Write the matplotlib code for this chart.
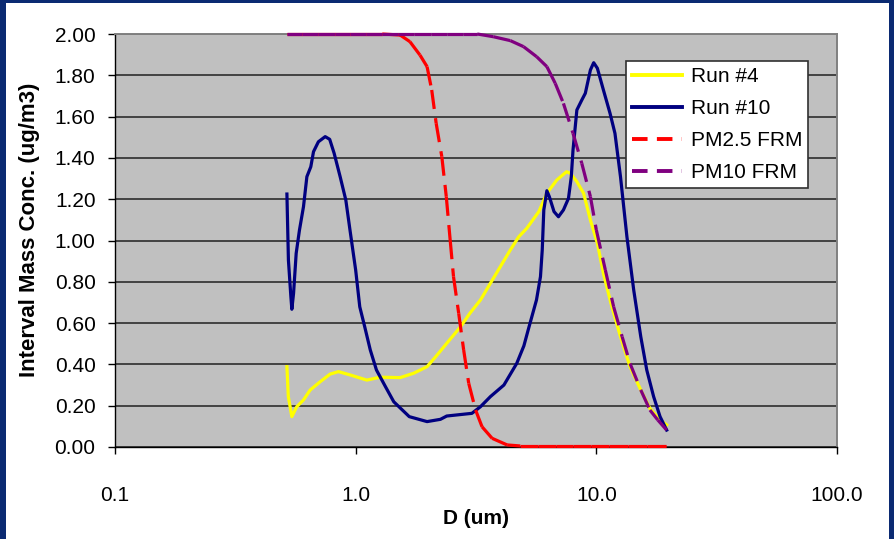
import matplotlib
matplotlib.use('Agg')
import matplotlib.pyplot as plt
from matplotlib.lines import Line2D
from matplotlib.patches import Rectangle
from matplotlib.ticker import FixedLocator, FixedFormatter, NullLocator

plt.rcParams['font.family'] = ['Liberation Sans', 'DejaVu Sans']

# ---------------- data ----------------
run10_d = [0.518, 0.5255, 0.538, 0.543, 0.552, 0.566, 0.584, 0.607, 0.627, 0.651,
           0.668, 0.700, 0.747, 0.780, 0.814, 0.862, 0.910, 0.947, 1.00, 1.04,
           1.09, 1.15, 1.22, 1.33, 1.44, 1.67, 1.98, 2.25, 2.39, 2.62,
           3.04, 3.30, 3.63, 4.13, 4.67, 5.00, 5.21, 5.64, 5.86, 5.96,
           6.05, 6.23, 6.38, 6.67, 6.96, 7.30, 7.66, 7.87, 8.00, 8.30,
           8.70, 9.00, 9.45, 9.75, 10.1, 10.7, 11.4, 11.95, 12.6, 13.4,
           14.3, 15.3, 16.2, 17.3, 18.4, 19.6]
run10_v = [1.225, 0.905, 0.728, 0.667, 0.744, 0.938, 1.05, 1.164, 1.309, 1.357,
           1.43, 1.478, 1.503, 1.49, 1.422, 1.309, 1.196, 1.051, 0.857, 0.679,
           0.583, 0.47, 0.373, 0.292, 0.219, 0.147, 0.123, 0.134, 0.150, 0.155,
           0.163, 0.195, 0.244, 0.300, 0.405, 0.49, 0.567, 0.712, 0.825, 0.954,
           1.148, 1.241, 1.212, 1.14, 1.115, 1.148, 1.204, 1.309, 1.438, 1.632,
           1.680, 1.713, 1.826, 1.861, 1.834, 1.729, 1.616, 1.519, 1.309, 1.018,
           0.760, 0.534, 0.373, 0.244, 0.147, 0.082]

run4_d = [0.518, 0.525, 0.543, 0.569, 0.607, 0.647, 0.712, 0.783, 0.848, 0.948,
          1.113, 1.264, 1.53, 1.74, 1.98, 2.16, 2.39, 2.73, 2.98, 3.30,
          3.63, 3.99, 4.39, 4.76, 5.14, 5.77, 6.23, 6.85, 7.52, 7.8,
          8.3, 8.85, 9.45, 10.1, 10.7, 11.5, 12.6, 13.8, 15.3, 16.7,
          18.4, 19.6]
run4_v = [0.389, 0.244, 0.147, 0.195, 0.228, 0.276, 0.316, 0.353, 0.365, 0.349,
          0.324, 0.338, 0.336, 0.357, 0.389, 0.440, 0.502, 0.583, 0.647, 0.712,
          0.793, 0.873, 0.954, 1.018, 1.059, 1.14, 1.229, 1.293, 1.333, 1.325,
          1.285, 1.229, 1.099, 0.986, 0.841, 0.696, 0.534, 0.389, 0.276, 0.187,
          0.131, 0.107]

pm25_d = [0.518, 0.60, 0.70, 0.82, 0.95, 1.10, 1.29, 1.53, 1.68, 1.85,
          1.98, 2.07, 2.16, 2.28, 2.38, 2.47, 2.55, 2.68, 2.81, 2.95,
          3.15, 3.35, 3.69, 4.26, 4.83, 5.7, 6.8, 8.0, 9.5, 11.3,
          13.5, 16.2, 19.6]
pm25_v = [2.0, 2.0, 2.0, 2.0, 2.0, 2.0, 2.0, 1.995, 1.963, 1.898,
          1.842, 1.729, 1.568, 1.406, 1.212, 1.002, 0.825, 0.647, 0.470, 0.308,
          0.179, 0.098, 0.042, 0.010, 0.005, 0.005, 0.005, 0.005, 0.005, 0.005,
          0.005, 0.005, 0.005]

pm10_d = [0.518, 0.60, 0.70, 0.82, 0.95, 1.10, 1.29, 1.50, 1.75, 2.05,
          2.40, 2.78, 3.20, 3.73, 4.39, 4.98, 5.65, 6.23, 6.75, 7.30,
          8.00, 8.70, 9.45, 10.0, 10.9, 11.8, 12.8, 13.8, 15.3, 16.7,
          18.0, 19.6]
pm10_v = [2.0, 2.0, 2.0, 2.0, 2.0, 2.0, 2.0, 2.0, 2.0, 2.0,
          2.0, 2.0, 2.0, 1.987, 1.968, 1.939, 1.890, 1.842, 1.761, 1.664,
          1.519, 1.374, 1.212, 1.051, 0.857, 0.679, 0.534, 0.405, 0.276, 0.179,
          0.131, 0.082]

series_names = ['Run #4', 'Run #10', 'PM2.5 FRM', 'PM10 FRM']
series_colors = ['#FFFF00', '#000080', '#FF0000', '#800080']

x_ticks = [0.1, 1.0, 10.0, 100.0]
x_tick_labels = ['0.1', '1.0', '10.0', '100.0']
y_ticks = [0.0, 0.2, 0.4, 0.6, 0.8, 1.0, 1.2, 1.4, 1.6, 1.8, 2.0]
y_tick_labels = ['%.2f' % v for v in y_ticks]

# ---------------- figure ----------------
W, H = 894, 539
fig = plt.figure(figsize=(W / 100, H / 100), dpi=100)
fig.patch.set_facecolor('#0B2A72')
fig.add_artist(Rectangle((6 / W, 0), (889 - 6) / W, (539 - 3) / H,
                         transform=fig.transFigure, facecolor='white',
                         edgecolor='none', zorder=0))

ax = fig.add_axes([115 / W, 1 - 447 / H, (837 - 115) / W, (447 - 34) / H])
ax.set_facecolor('#C0C0C0')
ax.set_xscale('log')
ax.set_xlim(0.1, 100)
ax.set_ylim(0, 2)

ax.xaxis.set_major_locator(FixedLocator(x_ticks))
ax.xaxis.set_major_formatter(FixedFormatter(x_tick_labels))
ax.xaxis.set_minor_locator(NullLocator())
ax.yaxis.set_major_locator(FixedLocator(y_ticks))
ax.yaxis.set_major_formatter(FixedFormatter(y_tick_labels))

ax.set_axisbelow(True)
ax.yaxis.grid(True, color='#202020', lw=1.1)
ax.xaxis.grid(False)

for s in ['top', 'right']:
    ax.spines[s].set_color('#808080')
    ax.spines[s].set_linewidth(1.4)
for s in ['left', 'bottom']:
    ax.spines[s].set_color('black')
    ax.spines[s].set_linewidth(1.0)

ax.tick_params(axis='both', direction='out', length=5, width=1, color='black',
               labelsize=15)
ax.tick_params(axis='x', pad=23)
ax.tick_params(axis='y', pad=9)

ax.set_xlabel('D (um)', fontsize=15, fontweight='bold', labelpad=3)
ax.set_ylabel('Interval Mass Conc. (ug/m3)', fontsize=16, fontweight='bold')
ax.yaxis.set_label_coords(-0.104, 0.525)

LW = 2.3
DASH = (6.0, 2.9)


def dashed_segments(xs, ys, color, z):
    # each data segment restarts its dash pattern (spreadsheet-style rendering)
    for i in range(len(xs) - 1):
        ax.plot(xs[i:i + 2], ys[i:i + 2], color=color, lw=LW, dashes=DASH,
                dash_capstyle='butt', zorder=z, clip_on=False)


ax.plot(run4_d, run4_v, color=series_colors[0], lw=LW, zorder=3, clip_on=False)
ax.plot(run10_d, run10_v, color=series_colors[1], lw=LW, zorder=4, clip_on=False)
dashed_segments(pm25_d, pm25_v, series_colors[2], 5)
dashed_segments(pm10_d, pm10_v, series_colors[3], 6)

handles = [
    Line2D([], [], color=series_colors[0], lw=LW + 0.5),
    Line2D([], [], color=series_colors[1], lw=LW + 0.5),
    Line2D([], [], color=series_colors[2], lw=LW + 0.5, dashes=(4.0, 2.4)),
    Line2D([], [], color=series_colors[3], lw=LW + 0.5, dashes=(4.0, 2.4)),
]
leg = fig.legend(handles, series_names, loc='upper left',
                 bbox_to_anchor=(626 / W, 1 - 61 / H), bbox_transform=fig.transFigure,
                 fontsize=15, frameon=True, fancybox=False, framealpha=1,
                 edgecolor='#303030', handlelength=2.4, handletextpad=0.4,
                 borderpad=0.3, labelspacing=0.62, borderaxespad=0)
leg.get_frame().set_linewidth(1.2)

fig.savefig('out.png', dpi=100, facecolor=fig.get_facecolor())
